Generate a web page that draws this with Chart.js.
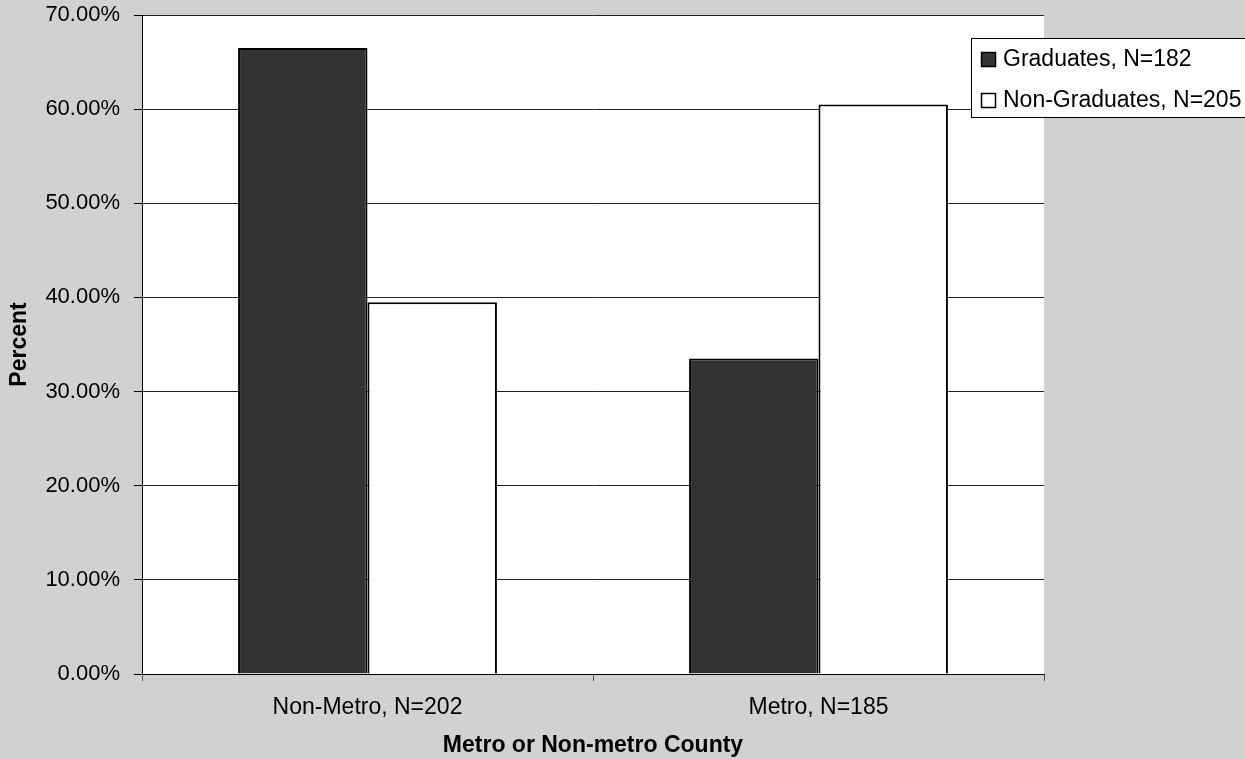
<!DOCTYPE html>
<html>
<head>
<meta charset="utf-8">
<script src="https://cdn.jsdelivr.net/npm/chart.js@4.4.1/dist/chart.umd.min.js"></script>
<style>
    html, body { margin: 0; padding: 0; background: #d0d1d3; }
    canvas { display: block; }
</style>
</head>
<body>
<canvas id="countyChart" width="1245" height="759"></canvas>
<script>
var categories = ['Non-Metro, N=202', 'Metro, N=185'];
var seriesNames = ['Graduates, N=182', 'Non-Graduates, N=205'];
var graduates = [66.5, 33.5];
var nonGraduates = [39.5, 60.5];
var yTicks = [0, 10, 20, 30, 40, 50, 60, 70];

var FONT = '"Liberation Sans", Arial, sans-serif';

// white plot area on the grey page
var plotBackground = {
    id: 'plotBackground',
    beforeDraw: function (chart) {
        var a = chart.chartArea;
        var ctx = chart.ctx;
        ctx.save();
        ctx.fillStyle = '#ffffff';
        ctx.fillRect(a.left, a.top, a.right - a.left, a.bottom - a.top);
        ctx.restore();
    }
};

// boxed legend, top right, running off the edge
var boxLegend = {
    id: 'boxLegend',
    afterDraw: function (chart) {
        var ctx = chart.ctx;
        var sets = chart.data.datasets;
        var left = 971, top = 38, bottom = 117;
        ctx.save();
        ctx.fillStyle = '#ffffff';
        ctx.fillRect(left, top, 400, bottom - top);
        ctx.strokeStyle = '#000000';
        ctx.lineWidth = 1;
        ctx.strokeRect(left + 0.5, top + 0.5, 400, bottom - top);
        ctx.font = '23px ' + FONT;
        ctx.textBaseline = 'middle';
        ctx.textAlign = 'left';
        var rows = [59, 100];
        sets.forEach(function (ds, i) {
            var cy = rows[i];
            ctx.fillStyle = ds.backgroundColor;
            ctx.fillRect(981, cy - 7, 15, 15);
            ctx.strokeStyle = '#000000';
            ctx.lineWidth = 1.5;
            ctx.strokeRect(981.5, cy - 6.5, 14, 14);
            ctx.fillStyle = '#000000';
            ctx.fillText(ds.label, 1003, cy + 1);
        });
        ctx.restore();
    }
};

var ctx = document.getElementById('countyChart');
var chart = new Chart(ctx, {
    type: 'bar',
    data: {
        labels: categories,
        datasets: [{
            label: seriesNames[0],
            data: graduates,
            backgroundColor: '#333333',
            borderColor: '#000000',
            borderWidth: 2
        }, {
            label: seriesNames[1],
            data: nonGraduates,
            backgroundColor: '#ffffff',
            borderColor: '#000000',
            borderWidth: 2
        }]
    },
    options: {
        responsive: false,
        animation: false,
        devicePixelRatio: 1,
        categoryPercentage: 0.574,
        barPercentage: 1,
        layout: {
            padding: { top: 15, right: 201, left: 0, bottom: 0 }
        },
        plugins: {
            legend: { display: false },
            tooltip: { enabled: false }
        },
        scales: {
            x: {
                afterFit: function (scale) {
                    scale.height = 85;
                    scale.paddingLeft = 0;
                    scale.paddingRight = 0;
                },
                grid: {
                    drawOnChartArea: false,
                    drawTicks: true,
                    tickLength: 7,
                    color: '#555555'
                },
                border: { color: '#000000', width: 1 },
                ticks: {
                    color: '#000000',
                    padding: 13,
                    font: { family: FONT, size: 23 }
                },
                title: {
                    display: true,
                    text: 'Metro or Non-metro County',
                    color: '#000000',
                    padding: { top: 0, bottom: 0 },
                    font: { family: FONT, size: 23, weight: 'bold' }
                }
            },
            y: {
                min: 0,
                max: 70,
                afterFit: function (scale) {
                    scale.width = 142;
                    scale.paddingTop = 0;
                    scale.paddingBottom = 0;
                },
                afterBuildTicks: function (scale) {
                    scale.ticks = yTicks.map(function (v) { return { value: v }; });
                },
                grid: {
                    color: '#222222',
                    tickColor: '#000000',
                    tickLength: 8,
                    lineWidth: 1
                },
                border: { color: '#000000', width: 1 },
                ticks: {
                    color: '#000000',
                    padding: 14,
                    font: { family: FONT, size: 22 },
                    callback: function (v) { return v.toFixed(2) + '%'; }
                },
                title: {
                    display: true,
                    text: 'Percent',
                    color: '#000000',
                    padding: { top: 6, bottom: 0 },
                    font: { family: FONT, size: 23, weight: 'bold' }
                }
            }
        }
    },
    plugins: [plotBackground, boxLegend]
});
</script>
</body>
</html>
